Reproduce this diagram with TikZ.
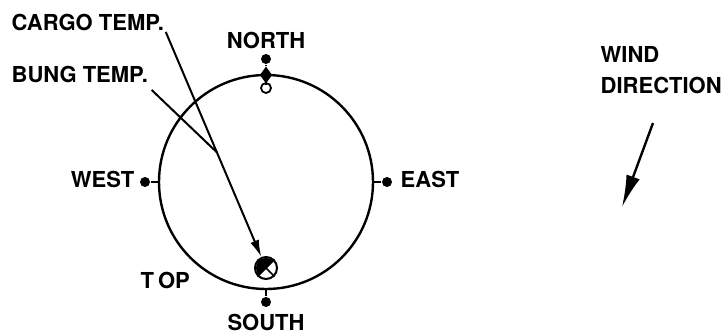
\documentclass[tikz,border=0pt]{standalone}
\usepackage{fontspec}
\setmainfont{TeX Gyre Heros}
\usetikzlibrary{arrows.meta, calc, shapes.geometric}

\begin{document}
\begin{tikzpicture}[x=1pt, y=-1pt, line width=2.4pt, font=\fontsize{22}{25}\selectfont\bfseries]
  \tikzset{dot/.style={circle, fill=black, inner sep=0pt, minimum size=10pt},
    ring/.style={circle, draw, fill=white, line width=1.8pt, inner sep=0pt, minimum size=10pt},
    tag/.style={inner sep=0.5pt}}
  \useasboundingbox (0,0) rectangle (724,335);

  % Compass circle
  \draw (266,182) circle (107);
  \coordinate (n) at (266,75); \coordinate (s) at (266,289);
  \coordinate (w) at (159,182); \coordinate (e) at (373,182);

  % North
  \node[dot] (nt) at (266,59) {};
  \node[diamond, fill, inner sep=0pt, minimum width=13pt, minimum height=18pt] (nd) at (n) {};
  \node[ring] (nr) at (266,88) {};
  \draw (nt) -- (nd); \draw (nd) -- (nr);
  \node[tag, anchor=base] (north) at (266,48) {NORTH};

  % West, East, South
  \node[dot] (wd) at (145,182) {}; \draw (wd) -- (w);
  \node[tag, anchor=base east] (west) at (136,187) {WEST};
  \node[dot] (ed) at (387,182) {}; \draw (ed) -- (e);
  \node[tag, anchor=base west] (east) at (399,187) {EAST};
  \node[dot] (sd) at (266,302) {}; \draw (sd) -- (s);
  \node[tag, anchor=base] (south) at (266,330) {SOUTH};
  \node[tag, anchor=base west] (top) at (139,288) {T\hspace{4pt}OP};

  % Temperature probes
  \node[circle, draw, line width=2pt, inner sep=0pt, minimum size=22pt] (xc) at (266,268) {};
  \fill (xc.center) -- ++(225:10) arc[start angle=225, end angle=315, radius=10] -- cycle;
  \fill (xc.center) -- ++(135:10) arc[start angle=135, end angle=225, radius=10] -- cycle;
  \draw[line width=1.6pt] (xc.45) -- (xc.225); \draw[line width=1.6pt] (xc.135) -- (xc.315);
  \node[tag, anchor=base west] (cargo) at (10,30) {CARGO TEMP.};
  \node[tag, anchor=base west] (bung) at (10,82) {BUNG TEMP.};
  \coordinate (join) at ($(cargo.south east)!0.51!(xc.center)$);
  \draw[line width=2pt, -{Latex[length=17pt, width=9pt]}] (cargo.south east) -- (xc);
  \draw[line width=2pt] ([shift={(2,6)}]bung.south east) -- (join);

  % Wind
  \node[tag, anchor=base west] (wind) at (599,62) {WIND};
  \node[tag, anchor=base west] (dir) at (599,93) {DIRECTION};
  \coordinate (wtail) at (653,123); \coordinate (whead) at (622,207);
  \draw[-{Latex[length=32pt, width=14pt]}] (wtail) -- (whead);
\end{tikzpicture}
\end{document}
